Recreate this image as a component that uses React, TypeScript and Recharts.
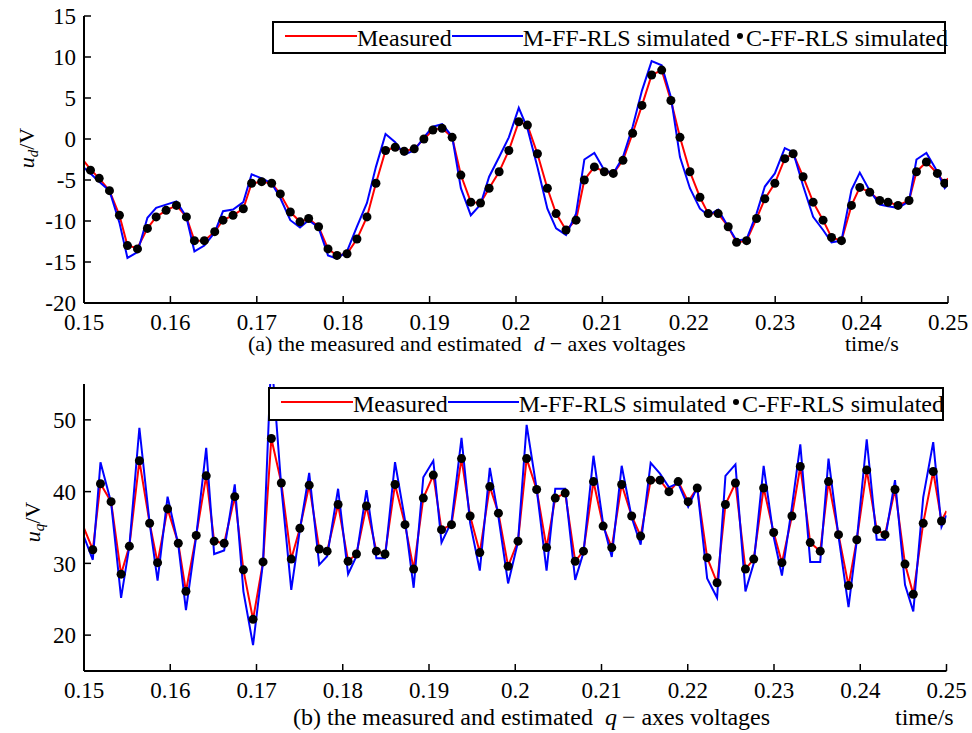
import React from 'react';
import { ComposedChart, Line, XAxis, YAxis } from 'recharts';

// ---------- (a) d-axis voltages ----------
const timeD = [
  0.15, 0.15075, 0.15176, 0.15295, 0.1541, 0.15503, 0.15619, 0.15734, 0.15835, 0.1595, 0.1607,
  0.16185, 0.16278, 0.16393, 0.16513, 0.16609, 0.16725, 0.16844, 0.1694, 0.17056, 0.17172,
  0.17272, 0.17388, 0.175, 0.176, 0.17715, 0.17824, 0.17928, 0.18044, 0.18159, 0.18275,
  0.18379, 0.1849, 0.18602, 0.18706, 0.18822, 0.18934, 0.19038, 0.19145, 0.19261, 0.19362,
  0.19477, 0.19589, 0.19689, 0.19805, 0.19917, 0.20032, 0.20132, 0.20248, 0.20363, 0.20464,
  0.20579, 0.20695, 0.20791, 0.20907, 0.21022, 0.21126, 0.21238, 0.2135, 0.21458, 0.2157,
  0.21686, 0.21793, 0.21898, 0.22013, 0.22129, 0.22225, 0.2234, 0.22456, 0.22553, 0.22669,
  0.22784, 0.2288, 0.22996, 0.23111, 0.23208, 0.23323, 0.23439, 0.23554, 0.23652, 0.23767,
  0.23883, 0.23979, 0.24094, 0.2421, 0.24306, 0.24422, 0.24549, 0.24635, 0.2475, 0.24877,
  0.24962, 0.25,
];
const measuredD = [
  -2.7, -3.7, -4.8, -6.3, -9.3, -13.0, -13.3, -10.9, -9.5, -8.7, -8.1,
  -9.5, -12.4, -12.4, -11.3, -9.9, -9.3, -8.5, -5.4, -5.2, -5.4,
  -6.7, -8.9, -10.1, -9.7, -10.7, -13.4, -14.2, -14.0, -12.2, -9.5,
  -5.4, -1.4, -1.0, -1.5, -1.2, 0.0, 1.1, 1.3, 0.2, -4.4,
  -7.7, -7.8, -6.0, -4.0, -1.4, 2.1, 1.7, -1.8, -6.0, -9.1,
  -11.1, -9.9, -5.0, -3.4, -4.0, -4.2, -2.6, 0.7, 4.1, 7.8,
  8.4, 4.7, 0.2, -4.0, -7.1, -9.1, -9.1, -10.7, -12.6, -12.4,
  -9.7, -7.3, -5.4, -2.4, -1.8, -4.6, -7.7, -9.9, -12.0, -12.4,
  -8.1, -5.9, -6.5, -7.5, -7.7, -8.1, -7.5, -4.0, -2.8, -4.2,
  -5.4, -4.8,
];
const mffD = [
  -3.5, -4.2, -5.2, -6.3, -10.2, -14.5, -13.8, -9.6, -8.4, -8.0, -7.6,
  -9.5, -13.7, -13.0, -11.4, -8.8, -8.6, -7.7, -4.3, -4.8, -5.4,
  -7.2, -9.9, -10.8, -9.9, -10.8, -14.2, -14.6, -13.7, -10.7, -7.8,
  -3.4, 0.6, -0.4, -1.9, -1.4, 0.2, 1.5, 1.8, 0.3, -6.0,
  -9.3, -8.0, -4.6, -2.2, 0.2, 3.8, 1.3, -3.4, -8.5, -10.9,
  -11.7, -9.1, -2.5, -1.7, -3.8, -4.2, -2.2, 1.5, 5.9, 9.5,
  9.0, 5.1, -2.2, -6.0, -8.5, -9.3, -8.6, -10.7, -12.4, -12.2,
  -9.1, -5.8, -4.2, -1.1, -1.6, -5.7, -9.5, -11.1, -12.6, -12.4,
  -6.2, -4.1, -6.3, -8.0, -8.2, -8.4, -7.6, -2.5, -1.7, -4.0,
  -6.0, -5.5,
];
const cffD = [
  null, -3.8, -4.8, -6.3, -9.3, -13.0, -13.4, -10.9, -9.5, -8.7, -8.1,
  -9.5, -12.4, -12.4, -11.3, -9.9, -9.3, -8.5, -5.4, -5.2, -5.4,
  -6.7, -8.9, -10.1, -9.7, -10.7, -13.4, -14.2, -14.0, -12.2, -9.5,
  -5.4, -1.4, -1.0, -1.5, -1.2, 0.0, 1.1, 1.3, 0.2, -4.4,
  -7.7, -7.8, -6.0, -4.0, -1.4, 2.1, 1.7, -1.8, -6.0, -9.1,
  -11.1, -9.9, -5.0, -3.4, -4.0, -4.2, -2.6, 0.7, 4.1, 7.8,
  8.4, 4.7, 0.2, -4.0, -7.1, -9.1, -9.1, -10.7, -12.6, -12.4,
  -9.7, -7.3, -5.4, -2.4, -1.8, -4.6, -7.7, -9.9, -12.0, -12.4,
  -8.1, -5.9, -6.5, -7.5, -7.7, -8.1, -7.5, -4.0, -2.8, -4.2,
  -5.4, null,
];

// ---------- (b) q-axis voltages ----------
const timeQ = [
  0.15, 0.15102, 0.15191, 0.15314, 0.1543, 0.15526, 0.15642, 0.15761, 0.15853, 0.15969, 0.16093,
  0.16182, 0.16301, 0.16417, 0.16509, 0.16625, 0.16748, 0.16848, 0.1696, 0.17076, 0.17172,
  0.17288, 0.17403, 0.17503, 0.17611, 0.17727, 0.17819, 0.17946, 0.18062, 0.18159, 0.18275,
  0.1839, 0.1849, 0.18606, 0.18722, 0.18822, 0.18934, 0.1905, 0.19145, 0.19261, 0.19377,
  0.19477, 0.19589, 0.19705, 0.19805, 0.19917, 0.20032, 0.20132, 0.20248, 0.20363, 0.20464,
  0.20579, 0.20695, 0.20791, 0.20907, 0.21019, 0.21119, 0.21234, 0.2135, 0.21454, 0.2157,
  0.21678, 0.21782, 0.21889, 0.22005, 0.2211, 0.22225, 0.2234, 0.22437, 0.22553, 0.22669,
  0.22765, 0.2288, 0.22996, 0.23092, 0.23208, 0.23305, 0.2342, 0.23536, 0.23632, 0.23748,
  0.23864, 0.2396, 0.24075, 0.24191, 0.24287, 0.24403, 0.24519, 0.24615, 0.2473, 0.24846,
  0.24942, 0.25,
];
const measuredQ = [
  34.9, 31.9, 41.1, 38.6, 28.5, 32.4, 44.3, 35.6, 30.1, 37.6, 32.8,
  26.1, 33.9, 42.2, 33.1, 32.8, 39.3, 29.1, 22.2, 30.2, 47.4,
  41.2, 30.6, 34.9, 40.9, 32.0, 31.7, 38.2, 30.3, 31.3, 38.0,
  31.7, 31.3, 41.0, 35.4, 29.2, 39.1, 42.3, 34.7, 35.4, 44.6,
  36.6, 31.5, 40.7, 37.0, 29.6, 33.1, 44.6, 40.3, 32.2, 39.1,
  39.8, 30.3, 31.7, 41.4, 35.2, 32.2, 41.0, 36.6, 33.8, 41.6,
  41.6, 40.0, 41.4, 38.6, 40.5, 30.8, 27.3, 38.2, 41.2, 29.2,
  30.6, 40.5, 34.3, 30.1, 36.6, 43.5, 32.9, 31.7, 41.4, 34.0,
  26.9, 33.3, 43.0, 34.7, 34.0, 40.3, 29.9, 25.7, 35.6, 42.8,
  35.9, 37.3,
];
const mffQ = [
  33.7, 30.5, 44.1, 38.5, 25.2, 32.4, 48.9, 35.6, 27.6, 39.3, 32.6,
  23.5, 33.8, 46.1, 31.3, 31.8, 41.0, 26.1, 18.6, 30.2, 59.0,
  40.6, 26.3, 34.7, 42.6, 29.8, 31.0, 40.4, 28.5, 31.0, 40.2,
  30.7, 30.7, 44.1, 36.0, 26.6, 42.0, 44.3, 32.9, 35.8, 47.5,
  35.6, 29.0, 43.3, 36.5, 27.2, 33.0, 49.3, 40.4, 29.0, 40.4,
  40.4, 27.7, 31.5, 45.0, 35.5, 30.9, 43.6, 36.4, 32.6, 44.0,
  42.5, 40.6, 41.2, 37.9, 40.6, 27.9, 25.2, 42.2, 43.8, 26.1,
  30.0, 43.6, 33.7, 28.3, 37.9, 46.6, 30.2, 30.2, 44.6, 33.8,
  23.9, 33.2, 47.3, 33.3, 33.3, 41.6, 27.0, 23.3, 39.2, 46.9,
  35.1, 36.7,
];
const cffQ = [
  null, 31.9, 41.1, 38.6, 28.5, 32.4, 44.3, 35.6, 30.1, 37.6, 32.8,
  26.1, 33.9, 42.2, 33.1, 32.8, 39.3, 29.1, 22.2, 30.2, 47.4,
  41.2, 30.6, 34.9, 40.9, 32.0, 31.7, 38.2, 30.3, 31.3, 38.0,
  31.7, 31.3, 41.0, 35.4, 29.2, 39.1, 42.3, 34.7, 35.4, 44.6,
  36.6, 31.5, 40.7, 37.0, 29.6, 33.1, 44.6, 40.3, 32.2, 39.1,
  39.8, 30.3, 31.7, 41.4, 35.2, 32.2, 41.0, 36.6, 33.8, 41.6,
  41.6, 40.0, 41.4, 38.6, 40.5, 30.8, 27.3, 38.2, 41.2, 29.2,
  30.6, 40.5, 34.3, 30.1, 36.6, 43.5, 32.9, 31.7, 41.4, 34.0,
  26.9, 33.3, 43.0, 34.7, 34.0, 40.3, 29.9, 25.7, 35.6, 42.8,
  35.9, null,
];

const xTicks = [0.15, 0.16, 0.17, 0.18, 0.19, 0.2, 0.21, 0.22, 0.23, 0.24, 0.25];
const yTicksD = [-20, -15, -10, -5, 0, 5, 10, 15];
const yTicksQ = [20, 30, 40, 50];
const legendLabels = ['Measured', 'M-FF-RLS simulated', 'C-FF-RLS simulated'];

const FONT = "Liberation Serif, DejaVu Serif, serif";
const RED = '#ff0000';
const BLUE = '#0000ff';

const build = (t: number[], m: number[], f: number[], c: (number | null)[]) =>
  t.map((v, i) => ({ t: v, meas: m[i], mff: f[i], cff: c[i] }));

const dataD = build(timeD, measuredD, mffD, cffD);
const dataQ = build(timeQ, measuredQ, mffQ, cffQ);

const fmtX = (v: number) => String(Number(v.toFixed(2)));

const axisLine = { stroke: '#000', strokeWidth: 2 };
const tickLine = { stroke: '#000', strokeWidth: 1.5 };
const tickStyle = { fill: '#000', fontSize: 23, fontFamily: FONT };

function Panel(props: { data: any[]; yDomain: number[]; yTicks: number[]; right: number }) {
  const { data, yDomain, yTicks, right } = props;
  return (
    <ComposedChart width={972} height={340} data={data} margin={{ top: 16, right, left: 20, bottom: 7 }}>
      <XAxis
        dataKey="t"
        type="number"
        domain={[0.15, 0.25]}
        ticks={xTicks}
        interval={0}
        allowDataOverflow
        tickFormatter={fmtX}
        tick={tickStyle}
        tickSize={-7}
        tickMargin={18}
        height={30}
        axisLine={axisLine}
        tickLine={tickLine}
      />
      <XAxis
        xAxisId="top"
        orientation="top"
        dataKey="t"
        type="number"
        domain={[0.15, 0.25]}
        ticks={xTicks}
        interval={0}
        allowDataOverflow
        tick={false}
        tickSize={-7}
        height={0}
        axisLine={axisLine}
        tickLine={tickLine}
      />
      <YAxis
        type="number"
        domain={yDomain}
        ticks={yTicks}
        interval={0}
        allowDataOverflow
        width={64}
        tick={tickStyle}
        tickSize={-7}
        tickMargin={15}
        axisLine={axisLine}
        tickLine={tickLine}
      />
      <YAxis
        yAxisId="right"
        orientation="right"
        type="number"
        domain={yDomain}
        ticks={yTicks}
        interval={0}
        allowDataOverflow
        width={0}
        tick={false}
        tickSize={-7}
        axisLine={axisLine}
        tickLine={tickLine}
      />
      <Line type="linear" dataKey="meas" stroke={RED} strokeWidth={2} dot={false} activeDot={false} isAnimationActive={false} />
      <Line type="linear" dataKey="mff" stroke={BLUE} strokeWidth={2} dot={false} activeDot={false} isAnimationActive={false} />
      <Line
        type="linear"
        dataKey="cff"
        stroke="none"
        dot={{ r: 4.5, fill: '#000', stroke: 'none' }}
        activeDot={false}
        isAnimationActive={false}
      />
    </ComposedChart>
  );
}

function LegendBox(props: { left: number; top: number; width: number; height: number }) {
  const { left, top, width, height } = props;
  const sw = (color: string, w: number) => (
    <svg width={w} height={6} style={{ position: 'relative', top: -2, flex: 'none' }}>
      <line x1={0} y1={3} x2={w} y2={3} stroke={color} strokeWidth={2} />
    </svg>
  );
  return (
    <div
      style={{
        position: 'absolute',
        left,
        top,
        width,
        height,
        boxSizing: 'border-box',
        border: '2px solid #000',
        background: '#fff',
        display: 'flex',
        alignItems: 'center',
        paddingLeft: 11,
        fontFamily: FONT,
        fontSize: 24,
        lineHeight: 1,
        whiteSpace: 'nowrap',
        color: '#000',
      }}
    >
      {sw(RED, 72)}
      <span>{legendLabels[0]}</span>
      {sw(BLUE, 71)}
      <span>{legendLabels[1]}</span>
      <svg width={16} height={10} style={{ position: 'relative', top: -2, flex: 'none' }}>
        <circle cx={10} cy={5} r={3} fill="#000" />
      </svg>
      <span>{legendLabels[2]}</span>
    </div>
  );
}

export default function App() {
  return (
    <div style={{ position: 'absolute', left: 0, top: 0, width: 972, height: 733, background: '#fff', overflow: 'hidden' }}>
      <div style={{ position: 'absolute', left: 0, top: 0 }}>
        <Panel data={dataD} yDomain={[-20, 15]} yTicks={yTicksD} right={24} />
      </div>
      <div style={{ position: 'absolute', left: 0, top: 368 }}>
        <Panel data={dataQ} yDomain={[15, 55]} yTicks={yTicksQ} right={25.5} />
      </div>
      <svg width={972} height={733} style={{ position: 'absolute', left: 0, top: 0, pointerEvents: 'none', fontFamily: FONT }} fill="#000">
        <text transform="translate(34,148) rotate(-90)" textAnchor="middle" fontSize={22}>
          <tspan fontStyle="italic">u</tspan>
          <tspan fontStyle="italic" fontSize={15} dy={4}>d</tspan>
          <tspan dy={-4}>/V</tspan>
        </text>
        <text transform="translate(40,522) rotate(-90)" textAnchor="middle" fontSize={22}>
          <tspan fontStyle="italic">u</tspan>
          <tspan fontStyle="italic" fontSize={15} dy={4}>q</tspan>
          <tspan dy={-4}>/V</tspan>
        </text>
        <text x={248} y={351} fontSize={22}>
          (a) the measured and estimated
          <tspan dx={12} fontStyle="italic">d</tspan>
          <tspan dx={5}>− axes voltages</tspan>
        </text>
        <text x={845} y={351} fontSize={22}>time/s</text>
        <text x={293} y={725} fontSize={24}>
          (b) the measured and estimated
          <tspan dx={12} fontStyle="italic">q</tspan>
          <tspan dx={5}>− axes voltages</tspan>
        </text>
        <text x={895} y={725} fontSize={24}>time/s</text>
      </svg>
      <LegendBox left={272} top={21} width={674} height={33} />
      <LegendBox left={268} top={387} width={676} height={34} />
    </div>
  );
}
